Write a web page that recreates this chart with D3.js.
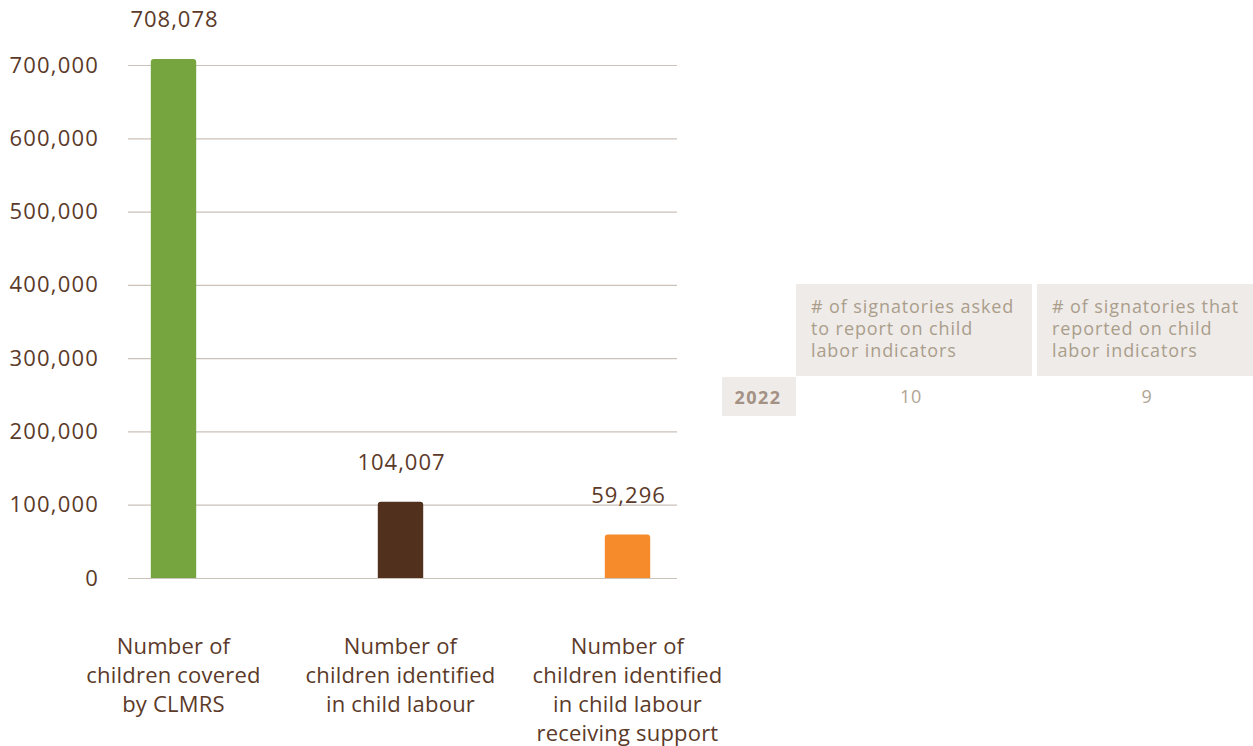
<!DOCTYPE html>
<html>
<head>
<meta charset="utf-8">
<script src="https://cdn.jsdelivr.net/npm/d3@7"></script>
<style>
  html, body { margin: 0; padding: 0; background: #ffffff; }
  svg { display: block; font-family: "Open Sans", sans-serif; }
</style>
</head>
<body>
<svg id="chart" width="1253" height="746"></svg>
<script>
// Bar chart data
const categories = [
  ["Number of", "children covered", "by CLMRS"],
  ["Number of", "children identified", "in child labour"],
  ["Number of", "children identified", "in child labour", "receiving support"]
];
const values = [708078, 104007, 59296];
const barColors = ["#76a540", "#52301e", "#f68b2c"];
const yTicks = [0, 100000, 200000, 300000, 400000, 500000, 600000, 700000];

// Reporting table data
const tableHeaders = [
  ["# of signatories asked", "to report on child", "labor indicators"],
  ["# of signatories that", "reported on child", "labor indicators"]
];
const tableYears = ["2022"];
const tableValues = [[10, 9]];

const svg = d3.select("#chart");
const textColor = "#5b3a29";
const gridColor = "#cbc2ba";
const fmt = d3.format(",");

const x = d3.scaleBand()
  .domain(d3.range(values.length))
  .range([60, 741])
  .paddingInner(0.8)
  .paddingOuter(0.4);

const y = d3.scaleLinear()
  .domain([0, 700000])
  .range([578, 65]);

// Gridlines and y tick labels
const yAxis = d3.axisLeft(y)
  .tickValues(yTicks)
  .tickFormat(fmt)
  .tickSize(-(677 - 128))
  .tickPadding(29);

const gAxis = svg.append("g")
  .attr("transform", "translate(128,0)")
  .call(yAxis);
gAxis.select(".domain").remove();
gAxis.selectAll(".tick line").attr("stroke", gridColor).attr("stroke-width", 1.2);
gAxis.selectAll(".tick text")
  .attr("fill", textColor)
  .attr("font-size", 22)
  .attr("letter-spacing", 1.2)
  .attr("font-family", "'Open Sans', sans-serif");

// Bars with rounded top corners
const r = 3;
svg.append("g").selectAll("path")
  .data(values)
  .join("path")
  .attr("fill", (d, i) => barColors[i])
  .attr("d", (d, i) => {
    const x0 = x(i), w = x.bandwidth(), y0 = y(d), y1 = y(0);
    return `M${x0},${y1}V${y0 + r}Q${x0},${y0} ${x0 + r},${y0}H${x0 + w - r}Q${x0 + w},${y0} ${x0 + w},${y0 + r}V${y1}Z`;
  });

// Value labels
svg.append("g").selectAll("text")
  .data(values)
  .join("text")
  .attr("x", (d, i) => x(i) + x.bandwidth() / 2 + 1)
  .attr("y", d => y(d) - 32)
  .attr("text-anchor", "middle")
  .attr("fill", textColor)
  .attr("font-size", 22)
  .attr("letter-spacing", 1)
  .text(d => fmt(d));

// Category labels
const catG = svg.append("g").selectAll("text")
  .data(categories)
  .join("text")
  .attr("text-anchor", "middle")
  .attr("fill", textColor)
  .attr("font-size", 22)
  .attr("letter-spacing", 0.2);
catG.selectAll("tspan")
  .data((d, i) => d.map(line => ({ line, i })))
  .join("tspan")
  .attr("x", d => x(d.i) + x.bandwidth() / 2)
  .attr("y", (d, j) => 654 + j * 29)
  .text(d => d.line);

// Table
const tbl = svg.append("g");
const cellFill = "#efebe9";
const colX = [796, 1037];
const colW = [236, 216];
const valueCenter = [115, 110];
const headTop = 284, headH = 92;
const rowTop = 377, rowH = 39;

tableHeaders.forEach((lines, c) => {
  tbl.append("rect")
    .attr("x", colX[c]).attr("y", headTop)
    .attr("width", colW[c]).attr("height", headH)
    .attr("fill", cellFill);
  const t = tbl.append("text")
    .attr("fill", "#aa9e8b")
    .attr("font-size", 18)
    .attr("letter-spacing", 0.9);
  lines.forEach((line, j) => {
    t.append("tspan")
      .attr("x", colX[c] + 15)
      .attr("y", 313 + j * 22)
      .text(line);
  });
});

tableYears.forEach((yr, rI) => {
  tbl.append("rect")
    .attr("x", 722).attr("y", rowTop + rI * rowH)
    .attr("width", 74).attr("height", rowH)
    .attr("fill", cellFill);
  tbl.append("text")
    .attr("x", 758).attr("y", rowTop + rI * rowH + 27)
    .attr("text-anchor", "middle")
    .attr("fill", "#a39184")
    .attr("font-size", 18)
    .attr("font-weight", "bold")
    .attr("letter-spacing", 1.5)
    .text(yr);
  tableValues[rI].forEach((v, c) => {
    tbl.append("text")
      .attr("x", colX[c] + valueCenter[c])
      .attr("y", rowTop + rI * rowH + 26)
      .attr("text-anchor", "middle")
      .attr("fill", "#b0a493")
      .attr("font-size", 18)
      .attr("letter-spacing", 0.8)
      .text(v);
  });
});
</script>
</body>
</html>
